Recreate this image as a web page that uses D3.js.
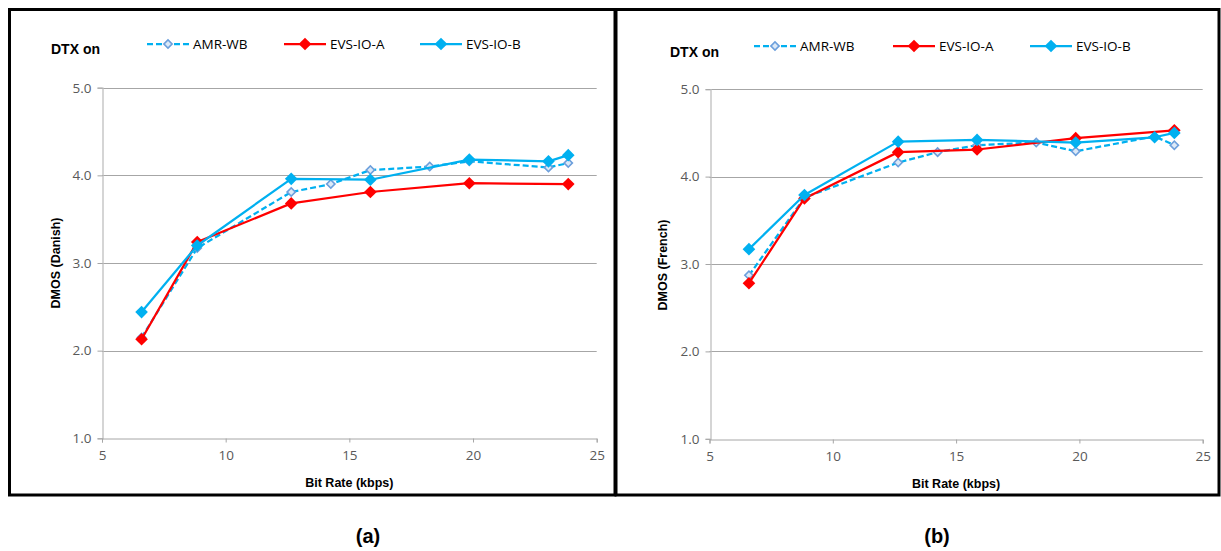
<!DOCTYPE html>
<html>
<head>
<meta charset="utf-8">
<script src="https://cdn.jsdelivr.net/npm/d3@7/dist/d3.min.js"></script>
<style>
  html, body { margin: 0; padding: 0; background: #fff; }
  svg { display: block; }
</style>
</head>
<body>
<svg id="chart" width="1221" height="551"></svg>
<script>
// ---------------- DATA ----------------
const seriesNames = ["AMR-WB", "EVS-IO-A", "EVS-IO-B"];
const xTicks = [5, 10, 15, 20, 25];
const yTicks = [1.0, 2.0, 3.0, 4.0, 5.0];

const rateAMR  = [6.6, 8.85, 12.65, 14.25, 15.85, 18.25, 19.85, 23.05, 23.85];
const rateEVSA = [6.6, 8.85, 12.65, 15.85, 19.85, 23.85];
const rateEVSB = [6.6, 8.85, 12.65, 15.85, 19.85, 23.05, 23.85];

const danishAMR  = [2.15, 3.17, 3.81, 3.90, 4.06, 4.10, 4.16, 4.09, 4.14];
const danishEVSA = [2.13, 3.24, 3.68, 3.81, 3.91, 3.90];
const danishEVSB = [2.44, 3.20, 3.96, 3.95, 4.18, 4.16, 4.23];

const frenchAMR  = [2.87, 3.76, 4.16, 4.28, 4.36, 4.39, 4.29, 4.46, 4.36];
const frenchEVSA = [2.78, 3.75, 4.28, 4.31, 4.44, 4.53];
const frenchEVSB = [3.17, 3.79, 4.40, 4.42, 4.39, 4.45, 4.50];

const panelTitles = ["DMOS (Danish)", "DMOS (French)"];
const panelLabels = ["(a)", "(b)"];
const headerText = "DTX on";
const xTitle = "Bit Rate (kbps)";

// ---------------- DRAWING ----------------
const svg = d3.select("#chart");
const tickFont = "'Open Sans', 'Liberation Sans', sans-serif";
const boldFont = "'Liberation Sans', Arial, sans-serif";

const styles = {
  "AMR-WB":   { line: "#00B0F0", dash: "6,3", marker: "hollow" },
  "EVS-IO-A": { line: "#FF0000", dash: null,  marker: "#FF0000" },
  "EVS-IO-B": { line: "#00B0F0", dash: null,  marker: "#00B0F0" }
};

function zip(xs, ys) { return xs.map((x, i) => ({ x: x, y: ys[i] })); }

function diamond(sel, style, size) {
  const sym = d3.symbol().type(d3.symbolSquare).size(size);
  if (style.marker === "hollow") {
    sel.attr("d", sym).attr("fill", "#dce9f7").attr("stroke", "#6c9fdc").attr("stroke-width", 1.6);
  } else {
    sel.attr("d", sym).attr("fill", style.marker).attr("stroke", "none");
  }
}

function drawPanel(cfg) {
  const g = svg.append("g");
  // frame
  g.append("rect")
    .attr("x", cfg.frame[0]).attr("y", cfg.frame[1])
    .attr("width", cfg.frame[2]).attr("height", cfg.frame[3])
    .attr("fill", "none").attr("stroke", "#000").attr("stroke-width", 3);

  const x = d3.scaleLinear().domain([5, 25]).range(cfg.xr);
  const y = d3.scaleLinear().domain([1, 5]).range(cfg.yr);

  // gridlines
  g.append("g").selectAll("line").data(yTicks.slice(1)).join("line")
    .attr("x1", cfg.xr[0]).attr("x2", cfg.xr[1])
    .attr("y1", d => Math.round(y(d)) + 0.5).attr("y2", d => Math.round(y(d)) + 0.5)
    .attr("stroke", "#A6A6A6").attr("stroke-width", 1);

  // y axis
  const yAxis = g.append("g")
    .attr("transform", `translate(${Math.round(cfg.xr[0]) + 0.5},0)`)
    .call(d3.axisLeft(y).tickValues(yTicks).tickFormat(d3.format(".1f")).tickSize(5).tickPadding(6));
  yAxis.select(".domain").attr("stroke", "#BFBFBF").attr("stroke-width", 1.3);
  yAxis.selectAll(".tick line").attr("stroke", "#A6A6A6");
  yAxis.selectAll(".tick text").attr("fill", "#595959").style("font-family", tickFont).style("font-size", "13.5px");

  // x axis
  const xAxis = g.append("g")
    .attr("transform", `translate(0,${Math.round(cfg.yr[0]) + 0.5})`)
    .call(d3.axisBottom(x).tickValues(xTicks).tickFormat(d3.format("d")).tickSize(4).tickPadding(8));
  xAxis.select(".domain").attr("stroke", "#A6A6A6");
  xAxis.selectAll(".tick line").attr("stroke", "#A6A6A6");
  xAxis.selectAll(".tick text").attr("fill", "#595959").style("font-family", tickFont).style("font-size", "13.5px");

  // titles
  g.append("text").attr("x", (cfg.xr[0] + cfg.xr[1]) / 2 + cfg.xTitleShift).attr("y", cfg.xTitleY)
    .attr("text-anchor", "middle").style("font-family", boldFont).style("font-weight", "bold")
    .style("font-size", "12.5px").attr("fill", "#000").text(xTitle);
  g.append("text")
    .attr("transform", `translate(${cfg.yTitleX},${cfg.yTitleY}) rotate(-90)`)
    .attr("text-anchor", "middle").style("font-family", boldFont).style("font-weight", "bold")
    .style("font-size", "12.5px").attr("fill", "#000").text(cfg.title);

  // header
  g.append("text").attr("x", cfg.header[0]).attr("y", cfg.header[1])
    .style("font-family", boldFont).style("font-weight", "bold").style("font-size", "14px")
    .attr("fill", "#000").text(headerText);

  // series
  const line = d3.line().x(d => x(d.x)).y(d => y(d.y));
  cfg.series.forEach(s => {
    const st = styles[s.name];
    const pts = zip(s.xs, s.ys);
    g.append("path").datum(pts).attr("d", line)
      .attr("fill", "none").attr("stroke", st.line).attr("stroke-width", 2.25)
      .attr("stroke-dasharray", st.dash).attr("stroke-linejoin", "round");
    g.append("g").selectAll("path").data(pts).join("path")
      .attr("transform", d => `translate(${x(d.x)},${y(d.y)}) rotate(45)`)
      .call(sel => diamond(sel, st, st.marker === "hollow" ? 34 : 80));
  });

  // legend
  cfg.series.forEach((s, i) => {
    const st = styles[s.name];
    const lx = cfg.legendX[i], ly = cfg.legendY;
    g.append("line").attr("x1", lx).attr("x2", lx + 42).attr("y1", ly).attr("y2", ly)
      .attr("stroke", st.line).attr("stroke-width", 2.25).attr("stroke-dasharray", st.dash);
    g.append("path").attr("transform", `translate(${lx + 21},${ly}) rotate(45)`)
      .call(sel => diamond(sel, st, st.marker === "hollow" ? 34 : 80));
    g.append("text").attr("x", lx + 46).attr("y", ly + 4.5)
      .style("font-family", tickFont).style("font-size", "13.5px").attr("fill", "#000").text(s.name);
  });

  // panel label
  svg.append("text").attr("x", cfg.label[0]).attr("y", cfg.label[1]).attr("text-anchor", "middle")
    .style("font-family", boldFont).style("font-weight", "bold").style("font-size", "20px")
    .attr("fill", "#000").text(cfg.labelText);
}

drawPanel({
  frame: [9.5, 9.5, 605.5, 485.5],
  xr: [102, 596.7], yr: [438.3, 87.7],
  title: panelTitles[0], yTitleX: 60, yTitleY: 263,
  xTitleShift: 0, xTitleY: 487,
  header: [51, 54],
  legendX: [147, 284, 420], legendY: 44,
  label: [368, 543], labelText: panelLabels[0],
  series: [
    { name: seriesNames[0], xs: rateAMR, ys: danishAMR },
    { name: seriesNames[1], xs: rateEVSA, ys: danishEVSA },
    { name: seriesNames[2], xs: rateEVSB, ys: danishEVSB }
  ]
});

drawPanel({
  frame: [616, 9.5, 603, 485.5],
  xr: [709.5, 1202.7], yr: [438.8, 89.2],
  title: panelTitles[1], yTitleX: 667, yTitleY: 265,
  xTitleShift: 0, xTitleY: 488,
  header: [670, 57],
  legendX: [754, 893, 1030], legendY: 46,
  label: [937, 543], labelText: panelLabels[1],
  series: [
    { name: seriesNames[0], xs: rateAMR, ys: frenchAMR },
    { name: seriesNames[1], xs: rateEVSA, ys: frenchEVSA },
    { name: seriesNames[2], xs: rateEVSB, ys: frenchEVSB }
  ]
});
</script>
</body>
</html>
